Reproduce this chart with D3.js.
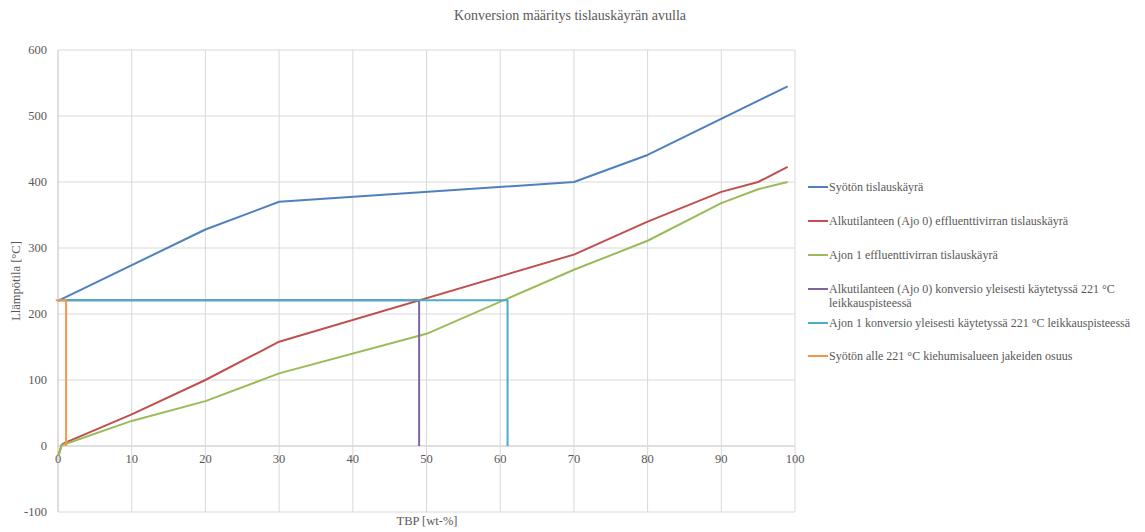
<!DOCTYPE html>
<html>
<head>
<meta charset="utf-8">
<script src="https://cdn.jsdelivr.net/npm/d3@7"></script>
<style>
  body { margin: 0; background: #fff; }
  svg text { font-family: "Times New Roman", "Liberation Serif", "DejaVu Serif", serif; fill: #595959; }
</style>
</head>
<body>
<div id="chart"></div>
<script>
// series data: [TBP wt-%, temperature °C]
const feedCurve = [[0, 220], [20, 328], [30, 370], [70, 400], [80, 441], [99, 545]];
const run0Curve = [[0.05, -15], [0.5, 2], [1, 5], [10, 48], [20, 100], [30, 158], [70, 290], [80, 340], [90, 385], [95, 400], [99, 423]];
const run1Curve = [[0.05, -15], [0.5, 1], [1, 3], [10, 38], [20, 68], [30, 110], [50, 170], [70, 267], [80, 311], [90, 368], [95, 389], [99, 400]];
const run0Cut = [[0, 221], [49, 221], [49, 0]];
const run1Cut = [[0, 221], [61, 221], [61, 0]];
const feedBelowCut = [[-0.3, 221], [1.1, 221], [1.1, 0]];

const seriesNames = [
  "Syötön tislauskäyrä",
  "Alkutilanteen (Ajo 0) effluenttivirran tislauskäyrä",
  "Ajon 1 effluenttivirran tislauskäyrä",
  "Alkutilanteen (Ajo 0) konversio yleisesti käytetyssä 221 °C|leikkauspisteessä",
  "Ajon 1 konversio yleisesti käytetyssä 221 °C leikkauspisteessä",
  "Syötön alle 221 °C kiehumisalueen jakeiden osuus"
];
const seriesColors = ["#4f81bd", "#c0504d", "#9bbb59", "#8064a2", "#4bacc6", "#f79646"];
const seriesData = [feedCurve, run0Curve, run1Curve, run0Cut, run1Cut, feedBelowCut];

const xTicks = [0, 10, 20, 30, 40, 50, 60, 70, 80, 90, 100];
const yTicks = [-100, 0, 100, 200, 300, 400, 500, 600];

const width = 1145, height = 532;
const svg = d3.select("#chart").append("svg")
  .attr("width", width).attr("height", height)
  .attr("font-family", "'Times New Roman', 'Liberation Serif', serif");

const x = d3.scaleLinear().domain([0, 100]).range([58, 795]);
const y = d3.scaleLinear().domain([-100, 600]).range([512, 50]);

// gridlines
svg.append("g")
  .selectAll("line.h")
  .data(yTicks)
  .enter().append("line")
  .attr("x1", x(0)).attr("x2", x(100))
  .attr("y1", d => y(d)).attr("y2", d => y(d))
  .attr("stroke", d => d === 0 ? "#bfbfbf" : "#d9d9d9")
  .attr("stroke-width", 1);

svg.append("g")
  .selectAll("line.v")
  .data(xTicks)
  .enter().append("line")
  .attr("x1", d => x(d)).attr("x2", d => x(d))
  .attr("y1", y(600)).attr("y2", y(-100))
  .attr("stroke", d => d === 0 ? "#bfbfbf" : "#d9d9d9")
  .attr("stroke-width", 1);

// tick labels
svg.append("g")
  .selectAll("text")
  .data(yTicks)
  .enter().append("text")
  .attr("x", 47).attr("y", d => y(d) + 4)
  .attr("text-anchor", "end")
  .style("font-size", "12.5px")
  .text(d => d);

svg.append("g")
  .selectAll("text")
  .data(xTicks)
  .enter().append("text")
  .attr("x", d => x(d)).attr("y", y(0) + 17)
  .attr("text-anchor", "middle")
  .style("font-size", "12.5px")
  .text(d => d);

// lines
const line = d3.line().x(d => x(d[0])).y(d => y(d[1]));
svg.append("g")
  .selectAll("path")
  .data(seriesData)
  .enter().append("path")
  .attr("d", d => line(d))
  .attr("fill", "none")
  .attr("stroke", (d, i) => seriesColors[i])
  .attr("stroke-width", 2)
  .attr("stroke-linejoin", "round");

// titles
svg.append("text")
  .attr("x", 570).attr("y", 20)
  .attr("text-anchor", "middle")
  .style("font-size", "14px")
  .text("Konversion määritys tislauskäyrän avulla");

svg.append("text")
  .attr("transform", `translate(20,${(y(600) + y(-100)) / 2}) rotate(-90)`)
  .attr("text-anchor", "middle")
  .style("font-size", "12.5px")
  .text("Llämpötila [°C]");

svg.append("text")
  .attr("x", 427).attr("y", 525)
  .attr("text-anchor", "middle")
  .style("font-size", "12.5px")
  .text("TBP [wt-%]");

// legend
const legendY = [187, 221, 255, 289, 323, 356];
const legend = svg.append("g")
  .selectAll("g")
  .data(seriesNames)
  .enter().append("g")
  .attr("transform", (d, i) => `translate(808,${legendY[i]})`);

legend.append("line")
  .attr("x1", 0).attr("x2", 20)
  .attr("stroke", (d, i) => seriesColors[i])
  .attr("stroke-width", 2);

legend.append("text")
  .attr("x", 21).attr("y", 4)
  .style("font-size", "12px")
  .selectAll("tspan")
  .data(d => d.split("|"))
  .enter().append("tspan")
  .attr("x", 21)
  .attr("dy", (d, i) => i === 0 ? 0 : 14)
  .text(d => d);
</script>
</body>
</html>
